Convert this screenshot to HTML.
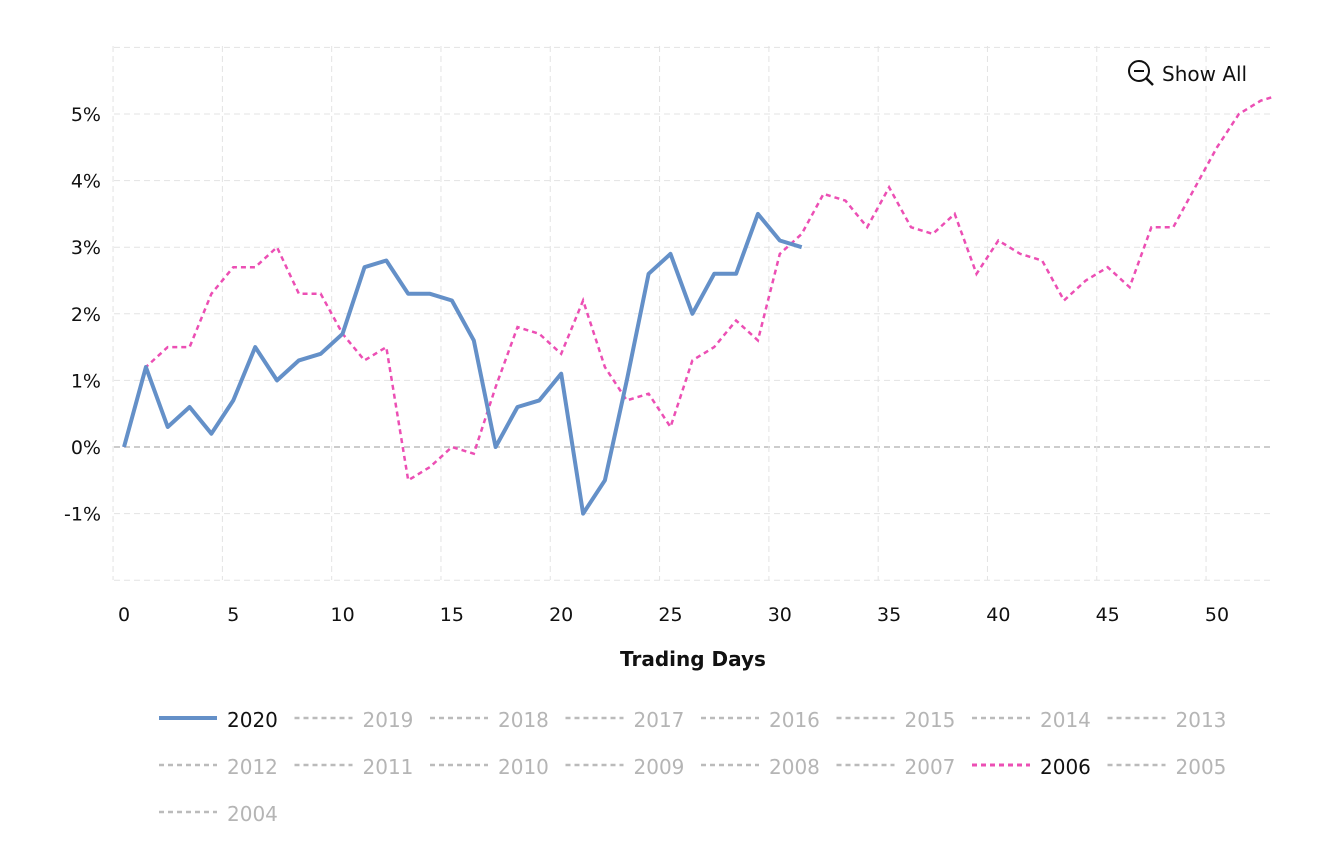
<!DOCTYPE html>
<html><head><meta charset="utf-8"><style>
body{margin:0;background:#fff;width:1332px;height:855px;overflow:hidden;font-family:"Liberation Sans","DejaVu Sans",sans-serif}
</style></head><body>
<svg id="s" width="1332" height="855" xmlns="http://www.w3.org/2000/svg" font-family="'DejaVu Sans','Liberation Sans',sans-serif">
</svg>
<script>
const s=document.getElementById('s');
const X=d=>124+d*21.86, Y=p=>447-p*66.6;
let h='';
h+='<defs><clipPath id="c"><rect x="114" y="40" width="1158" height="545"/></clipPath></defs>';
for(let p=-2;p<=6;p++){const y=Y(p);h+=`<line x1="114" x2="1272" y1="${y}" y2="${y}" stroke="${p==0?'#bbb':'#e3e3e3'}" stroke-width="${p==0?1.5:1}" stroke-dasharray="6,4"/>`;}
for(let i=0;i<=11;i++){const x=X(-0.5+i*5);if(x<=1272)h+=`<line x1="${x}" x2="${x}" y1="46" y2="580" stroke="#e3e3e3" stroke-dasharray="6,4"/>`;}
for(let p=-1;p<=5;p++)h+=`<text x="101" y="${Y(p)+7}" text-anchor="end" font-size="19" fill="#111">${p}%</text>`;
for(let d=0;d<=50;d+=5)h+=`<text x="${X(d)}" y="621" text-anchor="middle" font-size="19" fill="#111">${d}</text>`;
h+='<text x="693" y="666" text-anchor="middle" font-size="20" font-weight="bold" fill="#111">Trading Days</text>';
const a=[0,1.2,0.3,0.6,0.2,0.7,1.5,1.0,1.3,1.4,1.7,2.7,2.8,2.3,2.3,2.2,1.6,0.0,0.6,0.7,1.1,-1.0,-0.5,1.0,2.6,2.9,2.0,2.6,2.6,3.5,3.1,3.0];
const b=[0,1.2,1.5,1.5,2.3,2.7,2.7,3.0,2.3,2.3,1.7,1.3,1.5,-0.5,-0.3,0.0,-0.1,0.9,1.8,1.7,1.4,2.2,1.2,0.7,0.8,0.3,1.3,1.5,1.9,1.6,2.9,3.2,3.8,3.7,3.3,3.9,3.3,3.2,3.5,2.6,3.1,2.9,2.8,2.2,2.5,2.7,2.4,3.3,3.3,3.9,4.5,5.0,5.2,5.3];
const pts=v=>v.map((p,i)=>X(i).toFixed(1)+','+Y(p).toFixed(1)).join(' ');
h+=`<polyline clip-path="url(#c)" points="${pts(b)}" fill="none" stroke="#ec4fb4" stroke-width="2.5" stroke-dasharray="5,4"/>`;
h+=`<polyline points="${pts(a)}" fill="none" stroke="#6490c8" stroke-width="4" stroke-linejoin="round"/>`;
h+='<circle cx="1139" cy="71" r="10" fill="none" stroke="#111" stroke-width="2"/><line x1="1134" x2="1144" y1="71" y2="71" stroke="#111" stroke-width="2"/><line x1="1146" y1="78" x2="1153" y2="85" stroke="#111" stroke-width="2.5"/>';
h+='<text x="1162" y="81" font-size="20" fill="#111">Show All</text>';
const L=[["2020",1],["2019"],["2018"],["2017"],["2016"],["2015"],["2014"],["2013"],["2012"],["2011"],["2010"],["2009"],["2008"],["2007"],["2006",2],["2005"],["2004"]];
L.forEach((l,i)=>{const r=Math.floor(i/8),c=i%8;const x=159+c*135.5,y=721+r*47;
let st=l[1]==1?'stroke="#6490c8" stroke-width="4"':l[1]==2?'stroke="#ec4fb4" stroke-width="3" stroke-dasharray="5,4"':'stroke="#bbb" stroke-width="2.5" stroke-dasharray="5,4"';
h+=`<line x1="${x}" x2="${x+58}" y1="${y-3}" y2="${y-3}" ${st}/>`;
h+=`<text x="${x+68}" y="${y+6}" font-size="20" fill="${l[1]?'#111':'#b5b5b5'}">${l[0]}</text>`;});
s.innerHTML=h;
</script>
</body></html>
